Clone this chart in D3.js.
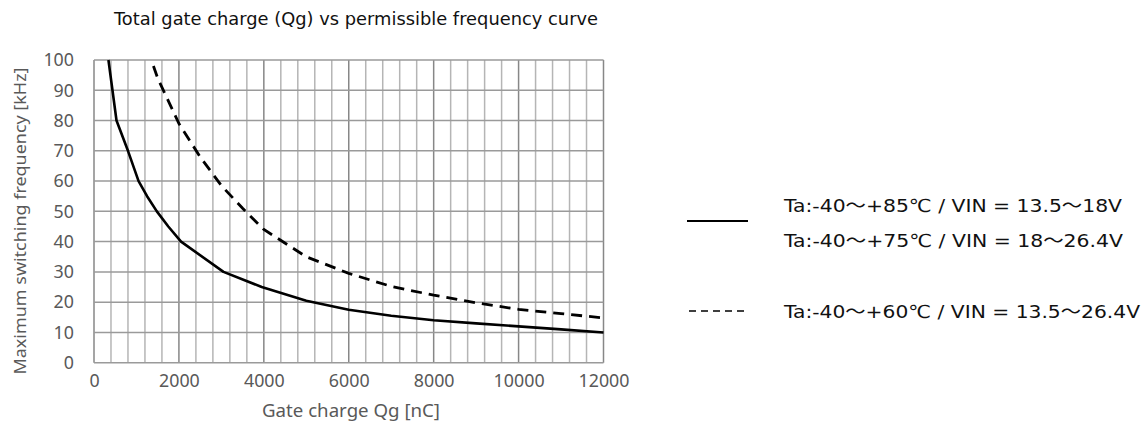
<!DOCTYPE html>
<html>

<head>
  <title>Total gate charge vs permissible frequency</title>
  <meta charset="utf-8" />
  <script src="https://d3js.org/d3.v7.min.js"></script>
  <style>
    body { margin: 0; background: #fff; }
  </style>
</head>

<body>
  <div id="chart"></div>
  <script type="text/javascript">

    // data
    var solidQg = [340, 530, 800, 1050, 1250, 1480, 1750, 2050, 3050, 3950, 5000, 6000, 7000, 8000, 9000, 10000, 11000, 12000];
    var solidF = [100, 80, 70, 60, 55, 50, 45, 40, 30, 25, 20.5, 17.5, 15.5, 14, 13, 12, 11, 10];
    var dashQg = [1400, 1500, 2000, 2500, 3000, 3500, 4000, 5000, 6000, 7000, 8000, 9000, 10000, 11000, 12000];
    var dashF = [98, 94, 79, 68, 58.5, 51, 44, 35, 29.5, 25.2, 22.3, 19.8, 17.6, 16.2, 14.8];
    var xTicks = [0, 2000, 4000, 6000, 8000, 10000, 12000];
    var yTicks = [0, 10, 20, 30, 40, 50, 60, 70, 80, 90, 100];
    var legendLabels = [
      ["Ta:-40～+85℃ / VIN = 13.5～18V", "Ta:-40～+75℃ / VIN = 18～26.4V"],
      ["Ta:-40～+60℃ / VIN = 13.5～26.4V"]
    ];

    var W = 1146, H = 423;
    var svg = d3.select("#chart").append("svg")
      .attr("width", W).attr("height", H)
      .style("background", "#fff");

    var x = d3.scaleLinear().domain([0, 12000]).range([94, 603.5]);
    var y = d3.scaleLinear().domain([0, 100]).range([362.7, 60]);

    /* grid */
    var grid = svg.append("g");
    grid.selectAll("line.v")
      .data(d3.range(0, 12001, 400))
      .enter().append("line")
      .attr("x1", d => x(d)).attr("x2", d => x(d))
      .attr("y1", y(0)).attr("y2", y(100))
      .attr("stroke", d => d % 2000 === 0 ? "#878787" : "#b5b5b5")
      .attr("stroke-width", 1.5);
    grid.selectAll("line.h")
      .data(yTicks)
      .enter().append("line")
      .attr("x1", x(0)).attr("x2", x(12000))
      .attr("y1", d => y(d)).attr("y2", d => y(d))
      .attr("stroke", "#9a9a9a")
      .attr("stroke-width", 1.5);

    /* axes (labels only) */
    var tickFont = "'Noto Sans', 'DejaVu Sans', sans-serif";
    var xAxis = svg.append("g")
      .attr("transform", "translate(0," + y(0) + ")")
      .call(d3.axisBottom(x).tickValues(xTicks).tickSize(0).tickPadding(12).tickFormat(d3.format("d")));
    var yAxis = svg.append("g")
      .attr("transform", "translate(" + x(0) + ",0)")
      .call(d3.axisLeft(y).tickValues(yTicks).tickSize(0).tickPadding(20));
    [xAxis, yAxis].forEach(function (a) {
      a.select(".domain").remove();
      a.selectAll("text")
        .attr("font-family", tickFont)
        .attr("font-size", 18)
        .attr("fill", "#595959")
        .attr("textLength", function () { return this.textContent.length * 10.2; })
        .attr("lengthAdjust", "spacingAndGlyphs");
    });

    /* curves */
    var line = d3.line().x(d => x(d[0])).y(d => y(d[1]));
    svg.append("path")
      .datum(d3.zip(solidQg, solidF))
      .attr("d", line)
      .attr("fill", "none")
      .attr("stroke", "#000")
      .attr("stroke-width", 2.6)
      .attr("stroke-linejoin", "round");
    svg.append("path")
      .datum(d3.zip(dashQg, dashF))
      .attr("d", line)
      .attr("fill", "none")
      .attr("stroke", "#000")
      .attr("stroke-width", 2.8)
      .attr("stroke-dasharray", "11,7");

    /* titles */
    var textFont = "Verdana, 'DejaVu Sans', 'Noto Sans CJK JP', sans-serif";
    svg.append("text")
      .attr("x", 114).attr("y", 25)
      .attr("font-family", textFont).attr("font-size", 18.5)
      .attr("textLength", 484).attr("lengthAdjust", "spacingAndGlyphs")
      .attr("fill", "#111")
      .text("Total gate charge (Qg) vs permissible frequency curve");

    svg.append("text")
      .attr("transform", "translate(26,221) rotate(-90)")
      .attr("text-anchor", "middle")
      .attr("font-family", tickFont).attr("font-size", 17)
      .attr("textLength", 307).attr("lengthAdjust", "spacingAndGlyphs")
      .attr("fill", "#595959")
      .text("Maximum switching frequency [kHz]");

    svg.append("text")
      .attr("x", 351).attr("y", 417)
      .attr("text-anchor", "middle")
      .attr("font-family", tickFont).attr("font-size", 18)
      .attr("textLength", 178).attr("lengthAdjust", "spacingAndGlyphs")
      .attr("fill", "#595959")
      .text("Gate charge Qg [nC]");

    /* legend */
    var lg = svg.append("g");
    lg.append("line")
      .attr("x1", 687).attr("x2", 748).attr("y1", 221).attr("y2", 221)
      .attr("stroke", "#000").attr("stroke-width", 2);
    lg.append("line")
      .attr("x1", 689).attr("x2", 748).attr("y1", 311).attr("y2", 311)
      .attr("stroke", "#000").attr("stroke-width", 1.3)
      .attr("stroke-dasharray", "7,5");
    var legendText = [
      { t: legendLabels[0][0], y: 212, w: 338 },
      { t: legendLabels[0][1], y: 247, w: 339 },
      { t: legendLabels[1][0], y: 318, w: 356 }
    ];
    lg.selectAll("text")
      .data(legendText)
      .enter().append("text")
      .attr("x", 784).attr("y", d => d.y)
      .attr("font-family", textFont).attr("font-size", 18)
      .attr("textLength", d => d.w).attr("lengthAdjust", "spacingAndGlyphs")
      .attr("fill", "#111")
      .text(d => d.t);

  </script>
</body>

</html>
